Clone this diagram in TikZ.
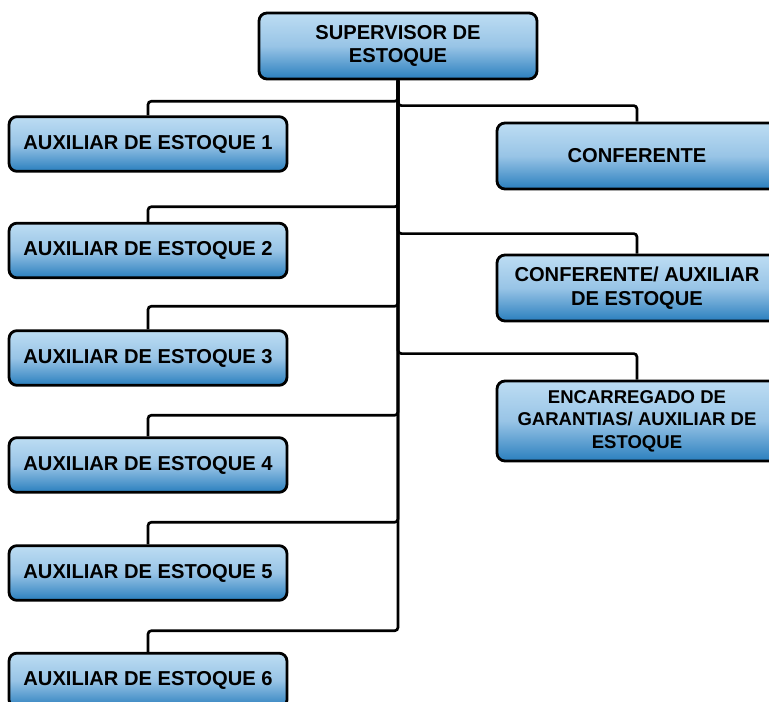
\documentclass[tikz,border=0pt]{standalone}
\usepackage{fontspec}
\setmainfont{Liberation Sans}
\usepackage{tikz}
\usetikzlibrary{positioning,calc}
\definecolor{boxtop}{HTML}{BDDDF3}
\definecolor{boxmid}{HTML}{98C4E6}
\definecolor{boxbot}{HTML}{2A7FBE}
\tikzset{cargo/.style={draw=black, line width=2.1pt, rounded corners=6pt, top color=boxtop, bottom color=boxbot, middle color=boxmid, align=center, inner sep=2pt, font=\fontsize{15.1pt}{17.8pt}\selectfont\bfseries}}
\tikzset{aux/.style={cargo, minimum width=208.5pt, minimum height=41pt}}
\tikzset{dir/.style={cargo, minimum width=210pt, minimum height=49.5pt}}
\tikzset{conn/.style={draw, line width=2pt, rounded corners=2.5pt}}

\begin{document}
\begin{tikzpicture}[x=0.75pt, y=-0.75pt]
	\useasboundingbox (0,0) rectangle (769,702);
	% topo
	\node[cargo, minimum width=208.5pt, minimum height=49.5pt] (sup) at (398,46) {SUPERVISOR DE\\ESTOQUE};
	% auxiliares (lado esquerdo)
	\node[aux] (aux1) at (148,144) {AUXILIAR DE ESTOQUE 1};
	\node[aux] (aux2) at (148,250.5) {AUXILIAR DE ESTOQUE 2};
	\node[aux] (aux3) at (148,358) {AUXILIAR DE ESTOQUE 3};
	\node[aux] (aux4) at (148,465) {AUXILIAR DE ESTOQUE 4};
	\node[aux] (aux5) at (148,573) {AUXILIAR DE ESTOQUE 5};
	\node[aux] (aux6) at (148,680.5) {AUXILIAR DE ESTOQUE 6};
	% lado direito
	\node[dir] (conf) at (637,156) {CONFERENTE};
	\node[dir] (confaux) at (637,288) {CONFERENTE/ AUXILIAR\\DE ESTOQUE};
	\node[dir, minimum height=60pt, font=\fontsize{13.9pt}{16.9pt}\selectfont\bfseries] (encar) at (637,421) {ENCARREGADO DE\\GARANTIAS/ AUXILIAR DE\\ESTOQUE};
	% ligacoes
	\foreach \n/\g in {aux1/14, aux2/15, aux3/23, aux4/21, aux5/22, aux6/21, conf/16, confaux/20, encar/26}
		\draw[conn] (sup.south) |- ($(\n.north)+(0,-\g)$) -- (\n.north);
\end{tikzpicture}
\end{document}
